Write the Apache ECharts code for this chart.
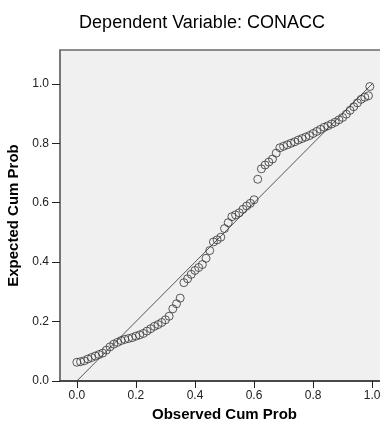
<!DOCTYPE html>
<html>
<head>
<meta charset="utf-8">
<script src="https://cdn.jsdelivr.net/npm/echarts@6/dist/echarts.min.js"></script>
<style>
  html, body { margin: 0; padding: 0; background: #fff; }
  #chart { width: 380px; height: 425px; }
</style>
</head>
<body>
<div id="chart"></div>
<script>
// observed cumulative probability (x) and expected cumulative probability (y)
const observed = [
  0.000, 0.0125, 0.025, 0.0375, 0.050, 0.0625, 0.075, 0.0875, 0.100, 0.1125,
  0.125, 0.1375, 0.150, 0.1625, 0.175, 0.1875, 0.200, 0.2125, 0.225, 0.2375,
  0.250, 0.2625, 0.275, 0.2875, 0.300, 0.3125, 0.325, 0.3375, 0.350, 0.3625,
  0.375, 0.3875, 0.400, 0.4125, 0.425, 0.4375, 0.450, 0.4625, 0.475, 0.4875,
  0.500, 0.5125, 0.525, 0.5375, 0.550, 0.5625, 0.575, 0.5875, 0.600, 0.6125,
  0.625, 0.6375, 0.650, 0.6625, 0.675, 0.6875, 0.700, 0.7125, 0.725, 0.7375,
  0.750, 0.7625, 0.775, 0.7875, 0.800, 0.8125, 0.825, 0.8375, 0.850, 0.8625,
  0.875, 0.8875, 0.900, 0.9125, 0.925, 0.9375, 0.950, 0.9625, 0.975, 0.9875,
  0.992
];
const expected = [
  0.063, 0.065, 0.068, 0.074, 0.079, 0.084, 0.089, 0.094, 0.104, 0.115,
  0.124, 0.130, 0.136, 0.140, 0.143, 0.146, 0.151, 0.155, 0.160, 0.168,
  0.176, 0.184, 0.190, 0.197, 0.206, 0.218, 0.243, 0.260, 0.279, 0.331,
  0.344, 0.359, 0.372, 0.382, 0.392, 0.413, 0.439, 0.468, 0.475, 0.484,
  0.513, 0.533, 0.553, 0.559, 0.566, 0.578, 0.589, 0.598, 0.610, 0.679,
  0.714, 0.727, 0.737, 0.747, 0.767, 0.785, 0.790, 0.795, 0.800, 0.805,
  0.811, 0.816, 0.821, 0.826, 0.833, 0.840, 0.847, 0.854, 0.859, 0.865,
  0.871, 0.879, 0.887, 0.898, 0.911, 0.923, 0.936, 0.948, 0.955, 0.960,
  0.991
];
const tickValues = [0, 0.2, 0.4, 0.6, 0.8, 1.0];
const refLine = [[0, 0], [1, 1]];

const points = observed.map((x, i) => [x, expected[i]]);

const chart = echarts.init(document.getElementById('chart'));

const option = {
  backgroundColor: '#ffffff',
  animation: false,
  textStyle: { fontFamily: 'Liberation Sans, Arial, sans-serif' },
  title: {
    text: 'Dependent Variable: CONACC',
    left: 197,
    textAlign: 'center',
    top: 9,
    textStyle: { fontSize: 18, fontWeight: 'normal', color: '#000' }
  },
  grid: {
    left: 60,
    top: 50,
    right: -9,
    bottom: 44,
    outerBoundsMode: 'none',
    containLabel: false,
    show: true,
    backgroundColor: '#f0f0f0',
    borderColor: '#222',
    borderWidth: 1
  },
  xAxis: {
    type: 'value',
    min: -0.057,
    max: 1.057,
    name: 'Observed Cum Prob',
    nameLocation: 'middle',
    nameGap: 16,
    nameTextStyle: { fontSize: 15, fontWeight: 'bold', color: '#000' },
    axisLine: { show: true, onZero: false, lineStyle: { color: '#333', width: 1.5 } },
    axisTick: { show: true, length: 7, customValues: tickValues, lineStyle: { color: '#222' } },
    axisLabel: {
      customValues: tickValues,
      margin: 9,
      fontSize: 12,
      color: '#222',
      formatter: v => v.toFixed(1)
    },
    splitLine: { show: false }
  },
  yAxis: {
    type: 'value',
    min: 0,
    max: 1.114,
    name: 'Expected Cum Prob',
    nameLocation: 'middle',
    nameGap: 30,
    nameTextStyle: { fontSize: 15, fontWeight: 'bold', color: '#000' },
    axisLine: { show: true, onZero: false, lineStyle: { color: '#777', width: 2 } },
    axisTick: { show: true, length: 8, customValues: tickValues, lineStyle: { color: '#222' } },
    axisLabel: {
      customValues: tickValues,
      margin: 11,
      fontSize: 12,
      color: '#222',
      formatter: v => v.toFixed(1)
    },
    splitLine: { show: false }
  },
  series: [
    {
      type: 'line',
      data: refLine,
      symbol: 'none',
      silent: true,
      lineStyle: { color: '#555', width: 1 },
      z: 1
    },
    {
      type: 'scatter',
      data: points,
      symbol: 'circle',
      symbolSize: 8,
      itemStyle: { color: 'rgba(0,0,0,0)', borderColor: '#333', borderWidth: 1 },
      z: 2
    }
  ]
};

chart.setOption(option);
window.addEventListener('resize', () => chart.resize());
</script>
</body>
</html>
